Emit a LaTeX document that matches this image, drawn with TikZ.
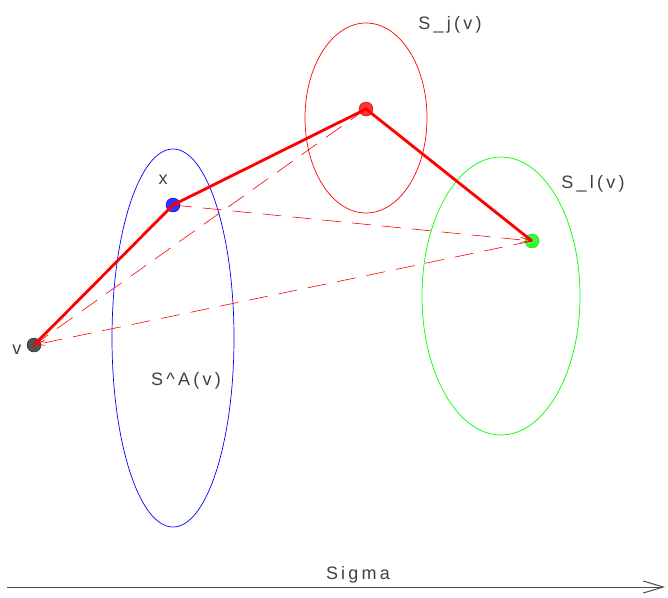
\documentclass[tikz,border=0pt]{standalone}
\usepackage{fontspec}
\setmainfont{Liberation Sans}
\newfontfamily\lblfont[LetterSpace=18]{Liberation Sans}
\usetikzlibrary{positioning,arrows.meta,shapes.geometric}
\definecolor{vgray}{RGB}{40,40,40}

\begin{document}
\begin{tikzpicture}[x=1pt, y=-1pt,
        dot/.style={circle, inner sep=0pt, minimum size=14pt, draw=#1!80!black, fill=#1, fill opacity=0.8},
        region/.style={ellipse, draw=#1, line width=0.7pt, inner sep=0pt},
        lbl/.style={font=\lblfont\fontsize{18}{20}\selectfont, text=black!75},
        path/.style={red, line width=2.8pt},
        shortcut/.style={red, line width=0.6pt, dash pattern=on 19pt off 11pt, -{Straight Barb[length=10pt, width=5pt]}}
    ]
        \useasboundingbox (0,0) rectangle (668,597);
        % regions
        \node[region=blue, minimum width=122pt, minimum height=378pt] (sa) at (173,338) {};
        \node[region=red, minimum width=122pt, minimum height=190pt] (sj) at (366,118) {};
        \node[region=green, minimum width=158pt, minimum height=278pt] (sl) at (501,296) {};
        % points
        \node[dot=vgray] (v) at (34,345) {};
        \node[dot=blue] (x) at (173,205) {};
        \node[dot=red] (pj) at (366,109) {};
        \node[dot=green] (pl) at (532,241) {};
        % labels
        \node[lbl] (vlbl) at (17,350) {v};
        \node[lbl] (xlbl) at (163,180) {x};
        \node[lbl] (sjlbl) at (450,25) {S\_j(v)};
        \node[lbl] (sllbl) at (593,184) {S\_l(v)};
        \node[lbl] (salbl) at (186,381) {S\textasciicircum A(v)};
        % shortcuts
        \draw[shortcut] (pj.center) -- (v.center);
        \draw[shortcut] (pl.center) -- (v.center);
        \draw[shortcut] (x.center) -- (pl.center);
        % path
        \draw[path] (v.center) -- (x.center) -- (pj.center) -- (pl.center);
        % axis
        \coordinate (ax0) at (7,587);
        \coordinate (ax1) at (665,587);
        \draw[black!70, line width=1pt, -{Straight Barb[length=20pt, width=12pt]}] (ax0) -- (ax1);
        \node[lbl, above=0pt of ax1, xshift=-307pt] (sigma) {Sigma};
    \end{tikzpicture}
\end{document}
